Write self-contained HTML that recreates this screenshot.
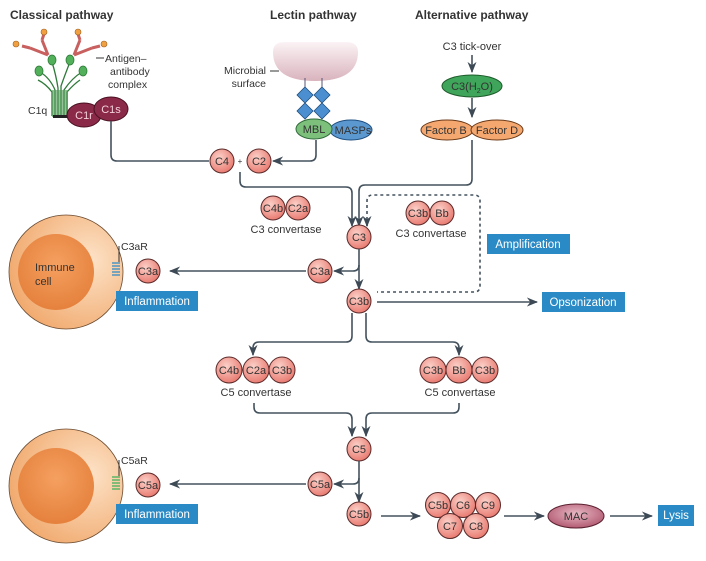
<!DOCTYPE html>
<html><head><meta charset="utf-8"><style>
body{margin:0;background:#fff}
svg{display:block}
text{font-family:"Liberation Sans",sans-serif;fill:#333}
</style></head><body>
<svg width="706" height="561" viewBox="0 0 706 561" xmlns="http://www.w3.org/2000/svg">
<defs>
<radialGradient id="rc" cx="40%" cy="35%" r="70%"><stop offset="0" stop-color="#fbd0c8"/><stop offset="1" stop-color="#e8766c"/></radialGradient>
<radialGradient id="cell" cx="70%" cy="40%" r="75%"><stop offset="0" stop-color="#fde3c8"/><stop offset="1" stop-color="#f0a76a"/></radialGradient>
<radialGradient id="nuc" cx="50%" cy="40%" r="60%"><stop offset="0" stop-color="#f5a060"/><stop offset="1" stop-color="#e5813d"/></radialGradient>
<radialGradient id="mac" cx="50%" cy="40%" r="60%"><stop offset="0" stop-color="#e8b8c4"/><stop offset="1" stop-color="#b25a72"/></radialGradient>
<linearGradient id="surf" x1="0" y1="0" x2="0" y2="1"><stop offset="0" stop-color="#fbf3f5"/><stop offset="1" stop-color="#d9b3bd"/></linearGradient>
<marker id="a" viewBox="0 0 10 10" refX="9" refY="5" markerWidth="7" markerHeight="7" orient="auto"><path d="M0,1 L10,5 L0,9 L3,5z" fill="#3d4a56"/></marker>
</defs>
<style>.l{fill:none;stroke:#44525e;stroke-width:1.6}.c{fill:url(#rc);stroke:#5a2a2a;stroke-width:1}.t{font-size:11px;text-anchor:middle}.b{fill:#2a8ac6}.bt{fill:#fff;font-size:11.5px}</style>

<text x="10" y="19" style="font-weight:bold;font-size:12px">Classical pathway</text>
<text x="270" y="19" style="font-weight:bold;font-size:12px">Lectin pathway</text>
<text x="415" y="19" style="font-weight:bold;font-size:12px">Alternative pathway</text>

<!-- classical drawing -->
<g stroke="#2f7a3a" stroke-width="1.3" fill="none">
<path d="M55,116 L55,90 Q50,78 40,72"/><path d="M58,116 L58,88 Q56,75 52,62"/><path d="M61,116 L61,86 Q66,72 70,62"/><path d="M64,116 L64,90 Q72,78 82,72"/><path d="M67,116 L67,92 Q74,84 80,80"/><path d="M52,116 L52,92 Q46,84 38,80"/>
</g>
<rect x="52" y="90" width="16" height="27" fill="#4f9a55" opacity="0.6"/>
<rect x="53" y="115" width="14" height="3" fill="#222"/>
<g fill="#52b05a" stroke="#2f7a3a" stroke-width="0.8">
<ellipse cx="39" cy="71" rx="4" ry="5"/><ellipse cx="52" cy="60" rx="4" ry="5"/><ellipse cx="70" cy="60" rx="4" ry="5"/><ellipse cx="83" cy="71" rx="4" ry="5"/>
</g>
<g stroke="#c86060" stroke-width="3" fill="none">
<path d="M48,55 L42,40 M48,55 L30,48 M42,40 L44,34 M30,48 L22,46"/>
<path d="M74,55 L80,40 M74,55 L92,48 M80,40 L78,34 M92,48 L100,46"/>
</g>
<g fill="#f0a040" stroke="#a06020" stroke-width="0.6"><circle cx="44" cy="32" r="3"/><circle cx="16" cy="44" r="3"/><circle cx="78" cy="32" r="3"/><circle cx="104" cy="44" r="3"/></g>
<line x1="96" y1="58" x2="104" y2="58" stroke="#333"/>
<text x="105" y="62" style="font-size:10.5px">Antigen–</text>
<text x="110" y="75" style="font-size:10.5px">antibody</text>
<text x="108" y="88" style="font-size:10.5px">complex</text>
<text x="28" y="114" style="font-size:10.5px">C1q</text>
<ellipse cx="84" cy="115" rx="17" ry="12" fill="#8a2a48" stroke="#4a1022"/>
<ellipse cx="111" cy="109" rx="17" ry="12" fill="#8a2a48" stroke="#4a1022"/>
<text x="84" y="119" class="t" style="fill:#f3d0da">C1r</text>
<text x="111" y="113" class="t" style="fill:#f3d0da">C1s</text>

<!-- lectin -->
<path d="M273,52 Q273,42 285,42 L346,42 Q358,42 358,52 Q358,81 315,81 Q273,81 273,52z" fill="url(#surf)"/>
<line x1="270" y1="71" x2="279" y2="71" stroke="#333"/>
<text x="266" y="74" style="font-size:10.5px;text-anchor:end">Microbial</text>
<text x="266" y="87" style="font-size:10.5px;text-anchor:end">surface</text>
<line x1="305" y1="78" x2="305" y2="87" stroke="#557"/><line x1="322" y1="78" x2="322" y2="87" stroke="#557"/>
<g fill="#4c8fd0" stroke="#1f4f80" stroke-width="0.8">
<path d="M305,87 l8,8 l-8,8 l-8,-8z"/><path d="M322,87 l8,8 l-8,8 l-8,-8z"/><path d="M305,103 l8,8 l-8,8 l-8,-8z"/><path d="M322,103 l8,8 l-8,8 l-8,-8z"/>
</g>
<ellipse cx="351" cy="130" rx="21" ry="10" fill="#5c98d0" stroke="#1f4f80"/>
<ellipse cx="314" cy="129" rx="18" ry="10" fill="#7cc07c" stroke="#2f6a3a"/>
<text x="314" y="133" class="t">MBL</text><text x="353" y="134" class="t">MASPs</text>

<!-- alternative -->
<text x="472" y="50" class="t">C3 tick-over</text>
<line x1="472" y1="55" x2="472" y2="72" class="l" marker-end="url(#a)"/>
<ellipse cx="472" cy="86" rx="30" ry="11" fill="#3fa55a" stroke="#1d5a2a"/>
<text x="472" y="90" class="t">C3(H<tspan dy="3" style="font-size:7px">2</tspan><tspan dy="-3">O)</tspan></text>
<line x1="472" y1="98" x2="472" y2="117" class="l" marker-end="url(#a)"/>
<ellipse cx="447" cy="130" rx="26" ry="10" fill="#f4a870" stroke="#6a3a1a"/>
<ellipse cx="497" cy="130" rx="26" ry="10" fill="#f4a870" stroke="#6a3a1a"/>
<text x="446" y="134" class="t">Factor B</text><text x="497" y="134" class="t">Factor D</text>

<!-- connectors top -->
<path d="M111,121 L111,155 Q111,161 117,161 L209,161" class="l"/>
<path d="M316,140 L316,155 Q316,161 310,161 L273,161" class="l" marker-end="url(#a)"/>
<circle cx="222" cy="161" r="12" class="c"/><circle cx="259" cy="161" r="12" class="c"/>
<text x="222" y="165" class="t">C4</text><text x="259" y="165" class="t">C2</text><text x="240" y="164" class="t" style="font-size:8px">+</text>
<path d="M240,172 L240,181 Q240,187 246,187 L346,187 Q352,187 352,193 L352,226" class="l" marker-end="url(#a)"/>
<path d="M472,140 L472,179 Q472,185 466,185 L365,185 Q359,185 359,191 L359,226" class="l" marker-end="url(#a)"/>
<path d="M367,226 L367,201 Q367,195 373,195 L474,195 Q480,195 480,201 L480,286 Q480,292 474,292 L377,292" fill="none" stroke="#44525e" stroke-width="1.6" stroke-dasharray="3,3"/>
<path d="M367,220 L367,226" class="l" marker-end="url(#a)"/>

<circle cx="273" cy="208" r="12" class="c"/><circle cx="298" cy="208" r="12" class="c"/>
<text x="273" y="212" class="t">C4b</text><text x="298" y="212" class="t">C2a</text>
<text x="286" y="233" class="t">C3 convertase</text>
<circle cx="418" cy="213" r="12" class="c"/><circle cx="442" cy="213" r="12" class="c"/>
<text x="418" y="217" class="t">C3b</text><text x="442" y="217" class="t">Bb</text>
<text x="431" y="237" class="t">C3 convertase</text>
<rect x="487" y="234" width="83" height="20" class="b"/><text x="528" y="248" class="bt" text-anchor="middle">Amplification</text>

<circle cx="359" cy="237" r="12" class="c"/><text x="359" y="241" class="t">C3</text>
<path d="M359,249 L359,289" class="l" marker-end="url(#a)"/>
<path d="M359,265 Q359,271 353,271 L334,271" class="l" marker-end="url(#a)"/>
<circle cx="320" cy="271" r="12" class="c"/><text x="320" y="275" class="t">C3a</text>
<circle cx="359" cy="301" r="12" class="c"/><text x="359" y="305" class="t">C3b</text>
<line x1="377" y1="302" x2="537" y2="302" class="l" marker-end="url(#a)"/>
<rect x="542" y="292" width="83" height="20" class="b"/><text x="583" y="306" class="bt" text-anchor="middle">Opsonization</text>
<line x1="306" y1="271" x2="170" y2="271" class="l" marker-end="url(#a)"/>

<!-- immune cell 1 -->
<circle cx="66" cy="272" r="57" fill="url(#cell)" stroke="#6a4a30" stroke-width="0.8"/>
<circle cx="56" cy="272" r="38" fill="url(#nuc)"/>
<text x="35" y="271" style="font-size:11px">Immune</text><text x="35" y="285" style="font-size:11px">cell</text>
<path d="M112,263 h8 M112,266 h8 M112,269 h8 M112,272 h8 M112,275 h8" stroke="#2a8ac6" stroke-width="1.3"/>
<line x1="119" y1="246" x2="119" y2="262" stroke="#333"/>
<text x="121" y="250" style="font-size:10.5px">C3aR</text>
<circle cx="148" cy="271" r="12" class="c"/><text x="148" y="275" class="t">C3a</text>
<rect x="116" y="291" width="82" height="20" class="b"/><text x="157" y="305" class="bt" text-anchor="middle">Inflammation</text>

<!-- C5 convertases -->
<path d="M352,313 L352,336 Q352,342 346,342 L259,342 Q253,342 253,348 L253,355" class="l" marker-end="url(#a)"/>
<path d="M366,313 L366,336 Q366,342 372,342 L453,342 Q459,342 459,348 L459,355" class="l" marker-end="url(#a)"/>
<circle cx="229" cy="370" r="13" class="c"/><circle cx="256" cy="370" r="13" class="c"/><circle cx="282" cy="370" r="13" class="c"/>
<text x="229" y="374" class="t">C4b</text><text x="256" y="374" class="t">C2a</text><text x="282" y="374" class="t">C3b</text>
<text x="256" y="396" class="t">C5 convertase</text>
<circle cx="433" cy="370" r="13" class="c"/><circle cx="459" cy="370" r="13" class="c"/><circle cx="485" cy="370" r="13" class="c"/>
<text x="433" y="374" class="t">C3b</text><text x="459" y="374" class="t">Bb</text><text x="485" y="374" class="t">C3b</text>
<text x="460" y="396" class="t">C5 convertase</text>
<path d="M254,403 L254,407 Q254,413 260,413 L346,413 Q352,413 352,419 L352,436" class="l" marker-end="url(#a)"/>
<path d="M459,403 L459,407 Q459,413 453,413 L372,413 Q366,413 366,419 L366,436" class="l" marker-end="url(#a)"/>

<circle cx="359" cy="449" r="12" class="c"/><text x="359" y="453" class="t">C5</text>
<path d="M359,461 L359,502" class="l" marker-end="url(#a)"/>
<path d="M359,478 Q359,484 353,484 L334,484" class="l" marker-end="url(#a)"/>
<circle cx="320" cy="484" r="12" class="c"/><text x="320" y="488" class="t">C5a</text>
<line x1="306" y1="484" x2="170" y2="484" class="l" marker-end="url(#a)"/>
<circle cx="359" cy="514" r="12" class="c"/><text x="359" y="518" class="t">C5b</text>

<!-- immune cell 2 -->
<circle cx="66" cy="486" r="57" fill="url(#cell)" stroke="#6a4a30" stroke-width="0.8"/>
<circle cx="56" cy="486" r="38" fill="url(#nuc)"/>
<path d="M112,477 h8 M112,480 h8 M112,483 h8 M112,486 h8 M112,489 h8" stroke="#3cb05a" stroke-width="1.3"/>
<line x1="119" y1="460" x2="119" y2="476" stroke="#333"/>
<text x="121" y="464" style="font-size:10.5px">C5aR</text>
<circle cx="148" cy="485" r="12" class="c"/><text x="148" y="489" class="t">C5a</text>
<rect x="116" y="504" width="82" height="20" class="b"/><text x="157" y="518" class="bt" text-anchor="middle">Inflammation</text>

<!-- MAC -->
<line x1="381" y1="516" x2="420" y2="516" class="l" marker-end="url(#a)"/>
<circle cx="438" cy="505" r="12.5" class="c"/><circle cx="463" cy="505" r="12.5" class="c"/><circle cx="488" cy="505" r="12.5" class="c"/>
<circle cx="450" cy="526" r="12.5" class="c"/><circle cx="476" cy="526" r="12.5" class="c"/>
<text x="438" y="509" class="t">C5b</text><text x="463" y="509" class="t">C6</text><text x="488" y="509" class="t">C9</text>
<text x="450" y="530" class="t">C7</text><text x="476" y="530" class="t">C8</text>
<line x1="504" y1="516" x2="544" y2="516" class="l" marker-end="url(#a)"/>
<ellipse cx="576" cy="516" rx="28" ry="12" fill="url(#mac)" stroke="#5a2030"/>
<text x="576" y="520" class="t">MAC</text>
<line x1="610" y1="516" x2="652" y2="516" class="l" marker-end="url(#a)"/>
<rect x="658" y="505" width="36" height="21" class="b"/><text x="676" y="519" class="bt" text-anchor="middle">Lysis</text>
</svg>
</body></html>
